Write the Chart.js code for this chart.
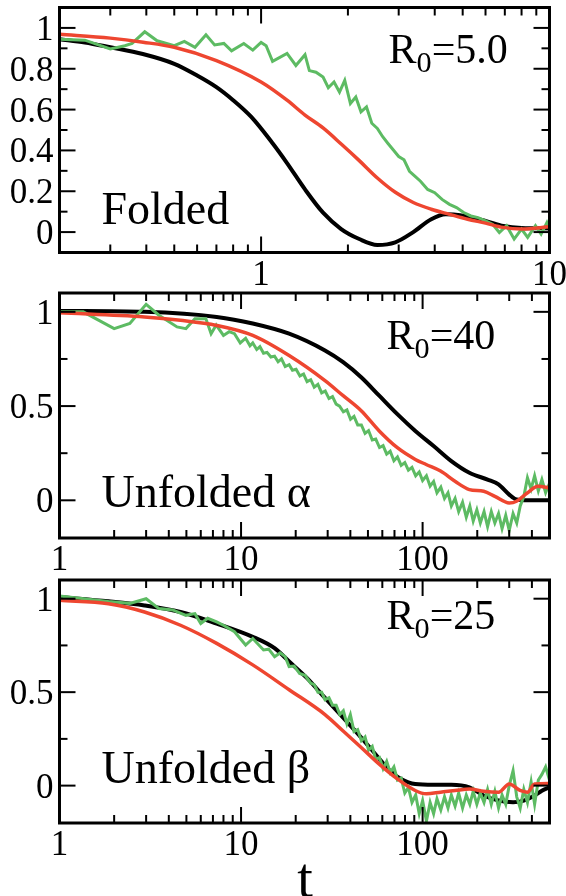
<!DOCTYPE html>
<html lang="en">
<head>
<meta charset="UTF-8">
<script src="https://cdn.jsdelivr.net/npm/chart.js"></script>
<style>
  body { margin: 0; background: #fff; }
  canvas { position: absolute; left: 0; top: 0; }
  .lbl { position: absolute; font-family: "Liberation Serif", "Times New Roman", Times, serif; color: #000; line-height: 1; white-space: nowrap; }
  .lbl sub { font-size: 0.72em; vertical-align: -0.3em; line-height: 0; }
</style>
</head>
<body>
<canvas id="c1" width="566" height="896"></canvas>
<canvas id="c2" width="566" height="896"></canvas>
<canvas id="c3" width="566" height="896"></canvas>
<div id="text"></div>
<script>
// ---- panel 1: Folded, R0=5.0 ----
const blackX1 = [0.2, 0.245, 0.3, 0.389, 0.5, 0.6, 0.7, 0.8, 0.923, 1.096, 1.23, 1.42, 1.64, 1.895, 2.19, 2.53, 2.92, 3.37, 3.89, 4.37, 4.9, 6.0, 6.92, 8, 10]
const blackY1 = [0.945, 0.929, 0.905, 0.872, 0.824, 0.767, 0.71, 0.646, 0.565, 0.435, 0.338, 0.209, 0.095, 0.015, -0.034, -0.063, -0.05, 0.0, 0.063, 0.087, 0.083, 0.055, 0.03, 0.02, 0.018]
const redX1 = [0.2, 0.3, 0.39, 0.5, 0.7, 1.0, 1.23, 1.42, 1.64, 1.9, 2.19, 2.53, 2.92, 3.37, 3.89, 4.5, 5.2, 6, 6.9, 8, 10]
const redY1 = [0.969, 0.95, 0.93, 0.905, 0.84, 0.735, 0.646, 0.573, 0.51, 0.43, 0.35, 0.265, 0.195, 0.145, 0.112, 0.087, 0.063, 0.044, 0.023, 0.015, 0.026]
const greenX1 = [0.2, 0.245, 0.3, 0.337, 0.357, 0.395, 0.436, 0.5, 0.542, 0.59, 0.644, 0.69, 0.743, 0.79, 0.871, 0.936, 1.0, 1.041, 1.096, 1.23, 1.32, 1.42, 1.47, 1.55, 1.64, 1.71, 1.79, 1.87, 1.95, 2.04, 2.13, 2.22, 2.32, 2.42, 2.53, 2.64, 2.75, 2.87, 3.0, 3.13, 3.27, 3.42, 3.57, 3.78, 4.0, 4.24, 4.5, 4.76, 5.04, 5.34, 5.65, 6.0, 6.34, 6.7, 7.1, 7.54, 8.0, 8.4, 8.94, 9.35, 9.8, 10]
const greenY1 = [0.945, 0.94, 0.897, 0.913, 0.924, 0.981, 0.937, 0.913, 0.934, 0.905, 0.966, 0.917, 0.924, 0.888, 0.924, 0.891, 0.929, 0.913, 0.836, 0.875, 0.816, 0.869, 0.791, 0.783, 0.759, 0.707, 0.735, 0.686, 0.743, 0.63, 0.662, 0.589, 0.613, 0.533, 0.508, 0.467, 0.435, 0.403, 0.37, 0.354, 0.298, 0.273, 0.249, 0.209, 0.193, 0.16, 0.136, 0.12, 0.096, 0.079, 0.071, 0.055, 0.039, -0.002, 0.031, -0.034, 0.015, -0.026, 0.031, -0.01, 0.047, 0.02]

// ---- panel 2: Unfolded alpha, R0=40 ----
const blackX2 = [1, 2.94, 7.34, 11.6, 18.4, 29, 36.5, 45.9, 57.7, 72.6, 91.2, 115, 144, 181, 228, 262, 300, 329, 380, 500]
const blackY2 = [1.005, 1.0, 0.973, 0.938, 0.884, 0.795, 0.733, 0.653, 0.555, 0.457, 0.368, 0.288, 0.208, 0.146, 0.11, 0.084, 0.03, 0.004, 0.0, 0.0]
const redX2 = [1, 2.94, 4.64, 7.34, 11.6, 18.4, 29, 36.5, 45.9, 57.7, 72.6, 91.2, 104.6, 125.6, 150.8, 181, 217, 250, 300, 329, 377, 432, 500]
const redY2 = [0.995, 0.973, 0.955, 0.928, 0.875, 0.768, 0.635, 0.555, 0.475, 0.368, 0.279, 0.217, 0.19, 0.155, 0.101, 0.057, 0.048, 0.021, -0.014, -0.005, 0.039, 0.074, 0.066]
const greenX2 = [1, 1.35, 2, 2.44, 3, 3.53, 4.44, 4.97, 5.57, 6.4, 6.84, 7.3, 8.0, 8.6, 9.2, 9.9, 10.6, 11.2, 11.6, 12.2, 12.7, 13.3, 13.9, 14.6, 15.3, 16.0, 16.7, 17.5, 18.4, 19.2, 20.1, 21.1, 22.1, 23.1, 24.2, 25.3, 26.5, 27.8, 29.1, 30.5, 31.9, 33.4, 34.9, 36.6, 38.3, 40.1, 41.9, 43.9, 46.0, 48.2, 50.4, 52.8, 55.2, 57.9, 60.6, 63.4, 66.3, 69.5, 72.7, 76.2, 79.8, 83.5, 87.4, 91.6, 95.8, 100, 105, 110, 115, 120, 126, 132, 138, 144, 151, 158, 166, 174, 182, 190, 199, 208, 218, 228, 239, 250, 262, 274, 287, 300, 315, 330, 345, 361, 378, 396, 414, 434, 454, 476, 500]
const greenY2 = [1.0, 1.0, 0.911, 0.938, 1.04, 0.982, 0.92, 0.911, 0.964, 0.964, 0.884, 0.93, 0.875, 0.895, 0.884, 0.835, 0.86, 0.82, 0.835, 0.80, 0.815, 0.78, 0.785, 0.76, 0.765, 0.735, 0.75, 0.71, 0.72, 0.69, 0.695, 0.66, 0.67, 0.63, 0.64, 0.60, 0.615, 0.57, 0.58, 0.54, 0.55, 0.51, 0.50, 0.47, 0.48, 0.43, 0.445, 0.40, 0.40, 0.355, 0.37, 0.32, 0.325, 0.28, 0.29, 0.245, 0.26, 0.21, 0.23, 0.185, 0.2, 0.16, 0.175, 0.13, 0.15, 0.105, 0.13, 0.075, 0.10, 0.04, 0.07, 0.01, 0.04, -0.03, 0.01, -0.06, -0.01, -0.09, -0.03, -0.11, -0.05, -0.12, -0.06, -0.14, -0.06, -0.12, -0.07, -0.15, -0.08, -0.16, -0.07, -0.12, -0.03, 0.02, 0.12, 0.06, 0.13, 0.05, 0.11, 0.04, 0.09]

// ---- panel 3: Unfolded beta, R0=25 ----
const blackX3 = [1, 1.86, 2.94, 4.64, 7.34, 11.6, 15.3, 18.4, 23.1, 29, 36.5, 45.9, 55, 66, 76, 91, 115, 144, 181, 217, 262, 315, 361, 414, 454, 500]
const blackY3 = [1.009, 0.986, 0.964, 0.929, 0.867, 0.796, 0.735, 0.664, 0.575, 0.469, 0.363, 0.257, 0.168, 0.08, 0.036, 0.009, 0.005, 0.005, -0.009, -0.053, -0.08, -0.089, -0.08, -0.053, -0.027, -0.009]
const redX3 = [1, 1.86, 2.94, 4.64, 7.34, 11.6, 18.4, 29, 36.5, 45.9, 57.7, 72.6, 91, 105, 125.6, 151, 181, 217, 262, 300, 344, 378, 414, 500]
const redY3 = [0.991, 0.973, 0.929, 0.858, 0.761, 0.646, 0.513, 0.38, 0.292, 0.204, 0.115, 0.036, -0.026, -0.044, -0.035, -0.026, -0.018, -0.03, -0.035, 0.009, -0.026, -0.035, 0.009, 0.012]
const greenX3 = [1, 1.86, 2.44, 3, 3.53, 4.2, 4.97, 5.57, 6.0, 6.55, 7.34, 8.0, 9.2, 10.6, 11.6, 13.3, 14.2, 15.3, 16.4, 17.5, 18.4, 19.6, 21, 22.5, 24.2, 25.3, 26.5, 27.8, 29, 30.5, 31.9, 33.4, 35, 36.6, 38.3, 40, 41.9, 43.9, 46, 48.2, 50.4, 52.8, 55.2, 57.9, 60.6, 63.4, 66.3, 69.5, 72.7, 76.2, 79.8, 83.5, 87.4, 91.6, 95.8, 100, 105, 110, 115, 120, 126, 132, 138, 144, 151, 158, 166, 174, 182, 190, 199, 208, 218, 228, 239, 250, 262, 274, 287, 300, 315, 330, 345, 361, 378, 396, 414, 434, 454, 476, 500]
const greenY3 = [1.014, 0.985, 0.975, 1.0, 0.947, 0.94, 0.911, 0.92, 0.867, 0.895, 0.876, 0.858, 0.823, 0.752, 0.787, 0.726, 0.73, 0.69, 0.71, 0.69, 0.637, 0.64, 0.60, 0.59, 0.548, 0.54, 0.50, 0.50, 0.46, 0.47, 0.43, 0.43, 0.38, 0.40, 0.33, 0.38, 0.29, 0.30, 0.24, 0.26, 0.19, 0.21, 0.14, 0.15, 0.09, 0.13, 0.07, 0.10, 0.03, 0.04, -0.04, -0.01, -0.09, -0.05, -0.15, -0.08, -0.19, -0.09, -0.15, -0.07, -0.13, -0.06, -0.12, -0.05, -0.11, -0.04, -0.12, -0.05, -0.10, -0.03, -0.10, -0.04, -0.09, -0.02, -0.10, -0.03, -0.12, -0.05, -0.10, 0.0, 0.08, -0.06, -0.12, -0.02, -0.09, 0.02, -0.10, 0.03, 0.06, 0.10, 0.03]

// ---- axes ----
const xLabels1 = ['1', '10']
const xMajor1 = [1, 10]
const xMinor1 = [0.3, 0.4, 0.5, 0.6, 0.7, 0.8, 0.9, 2, 3, 4, 5, 6, 7, 8, 9]
const yLabels1 = ['0', '0.2', '0.4', '0.6', '0.8', '1']
const yMajor1 = [0, 0.2, 0.4, 0.6, 0.8, 1]
const yMinor1 = [0.1, 0.3, 0.5, 0.7, 0.9]
const xLabels23 = ['1', '10', '100']
const xMajor23 = [1, 10, 100]
const xMinor23 = [2, 3, 4, 5, 6, 7, 8, 9, 20, 30, 40, 50, 60, 70, 80, 90, 200, 300, 400]
const yLabels23 = ['0', '0.5', '1']
const yMajor23 = [0, 0.5, 1]
const yMinor23 = [0.25, 0.75]

const textBox = document.getElementById('text')

function pts(xs, ys) {
    return xs.map((x, i) => ({ x: x, y: ys[i] }))
}

// text as html, placed from the chart scales; ax/ay = anchor fraction
function addText(html, x, y, size, ax, ay) {
    const d = document.createElement('div')
    d.className = 'lbl'
    d.innerHTML = html
    d.style.fontSize = size + 'px'
    d.style.left = x + 'px'
    d.style.top = y + 'px'
    d.style.transform = 'translate(' + (-ax * 100) + '%,' + (-ay * 100) + '%)'
    textBox.appendChild(d)
}

const framePlugin = {
    id: 'frame',
    afterDraw(chart, args, o) {
        const ctx = chart.ctx
        const a = chart.chartArea
        const sx = chart.scales.x
        const sy = chart.scales.y
        ctx.save()
        ctx.strokeStyle = '#000'
        ctx.lineWidth = 2
        function seg(x1, y1, x2, y2) {
            ctx.beginPath(); ctx.moveTo(x1, y1); ctx.lineTo(x2, y2); ctx.stroke()
        }
        o.xMajor.forEach(v => { const p = sx.getPixelForValue(v); seg(p, a.bottom, p, a.bottom - 16); seg(p, a.top, p, a.top + 16) })
        o.xMinor.forEach(v => { const p = sx.getPixelForValue(v); seg(p, a.bottom, p, a.bottom - 8); seg(p, a.top, p, a.top + 8) })
        o.yMajor.forEach(v => { const p = sy.getPixelForValue(v); seg(a.left, p, a.left + 16, p); seg(a.right, p, a.right - 16, p) })
        o.yMinor.forEach(v => { const p = sy.getPixelForValue(v); seg(a.left, p, a.left + 8, p); seg(a.right, p, a.right - 8, p) })
        ctx.lineWidth = 3
        ctx.strokeRect(a.left, a.top, a.width, a.height)
        ctx.restore()

        if (chart.$labelsDone) return
        chart.$labelsDone = true
        o.yMajor.forEach((v, i) => addText(o.yLabels[i], a.left - 6, sy.getPixelForValue(v), 35, 1, 0.5))
        o.xMajor.forEach((v, i) => addText(o.xLabels[i], sx.getPixelForValue(v), a.bottom + 20, 35, 0.5, 0.5))
        addText('R<sub>0</sub>' + o.rtext, a.left + o.rx, a.top + o.ry, 42, 0, 0.5)
        addText(o.name, a.left + 42, a.top + o.ny, 46, 0, 0.5)
        if (o.axisTitle) addText(o.axisTitle, 305, 878, 56, 0.5, 0.5)
    }
}

function makePanel(id, pad, xmin, xmax, ymin, ymax, black, red, green, frame) {
    new Chart(document.getElementById(id), {
        type: 'scatter',
        data: {
            datasets: [
                { data: red, borderColor: '#ee4630', borderWidth: 3.5, showLine: true, pointRadius: 0, cubicInterpolationMode: 'monotone' },
                { data: green, borderColor: '#5dbb63', borderWidth: 3, showLine: true, pointRadius: 0, tension: 0 },
                { data: black, borderColor: '#000000', borderWidth: 4, showLine: true, pointRadius: 0, cubicInterpolationMode: 'monotone' }
            ]
        },
        options: {
            responsive: false,
            animation: false,
            devicePixelRatio: 1,
            layout: { padding: pad },
            scales: {
                x: { type: 'logarithmic', min: xmin, max: xmax, display: false },
                y: { type: 'linear', min: ymin, max: ymax, display: false }
            },
            plugins: { legend: { display: false }, tooltip: { enabled: false }, frame: frame }
        },
        plugins: [framePlugin]
    })
}

makePanel('c1', { left: 59.5, right: 16.5, top: 7.5, bottom: 896 - 252.5 }, 0.2, 10, -0.1, 1.1,
    pts(blackX1, blackY1), pts(redX1, redY1), pts(greenX1, greenY1),
    { xMajor: xMajor1, xMinor: xMinor1, xLabels: xLabels1, yMajor: yMajor1, yMinor: yMinor1, yLabels: yLabels1,
      rx: 329, ry: 41, rtext: '=5.0', name: 'Folded', ny: 201 })

makePanel('c2', { left: 59.5, right: 16.5, top: 293, bottom: 896 - 538 }, 1, 500, -0.2, 1.1,
    pts(blackX2, blackY2), pts(redX2, redY2), pts(greenX2, greenY2),
    { xMajor: xMajor23, xMinor: xMinor23, xLabels: xLabels23, yMajor: yMajor23, yMinor: yMinor23, yLabels: yLabels23,
      rx: 327, ry: 42, rtext: '=40', name: 'Unfolded \u03b1', ny: 199 })

makePanel('c3', { left: 59.5, right: 16.5, top: 580, bottom: 896 - 823 }, 1, 500, -0.2, 1.1,
    pts(blackX3, blackY3), pts(redX3, redY3), pts(greenX3, greenY3),
    { xMajor: xMajor23, xMinor: xMinor23, xLabels: xLabels23, yMajor: yMajor23, yMinor: yMinor23, yLabels: yLabels23,
      rx: 327, ry: 35, rtext: '=25', name: 'Unfolded \u03b2', ny: 188, axisTitle: 't' })
</script>
</body>
</html>
